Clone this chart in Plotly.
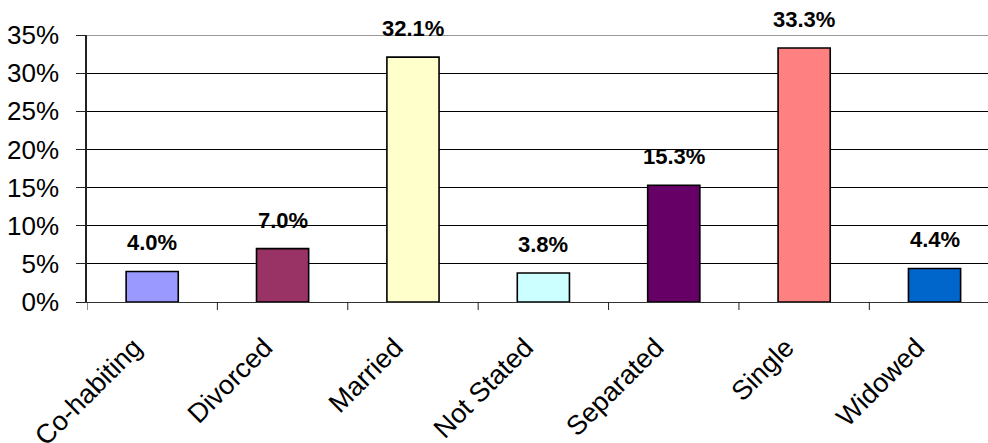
import plotly.graph_objects as go

# Marital status distribution
categories = ["Co-habiting", "Divorced", "Married", "Not Stated", "Separated", "Single", "Widowed"]
shares = [4.0, 7.0, 32.1, 3.8, 15.3, 33.3, 4.4]
bar_colors = ["#9999FF", "#993366", "#FFFFCC", "#CCFFFF", "#660066", "#FF8080", "#0066CC"]
y_ticks = [0, 5, 10, 15, 20, 25, 30, 35]
y_tick_labels = [f"{v}%" for v in y_ticks]

FONT = "Liberation Sans, Arial, sans-serif"

fig = go.Figure(
    go.Bar(
        x=categories,
        y=shares,
        width=0.4,
        marker=dict(color=bar_colors, line=dict(color="#000000", width=1.6)),
        hoverinfo="skip",
    )
)

# value labels above each bar
for cat, val in zip(categories, shares):
    fig.add_annotation(
        x=cat, y=val, text=f"<b>{val:.1f}%</b>", showarrow=False,
        yanchor="bottom", yshift=14,
        font=dict(family=FONT, size=22, color="#000000"),
    )

# lighter frame line along the top of the plot area
fig.add_shape(
    type="line", xref="paper", yref="y", x0=0, x1=1, y0=35, y1=35,
    line=dict(color="#999999", width=2), layer="above",
)

fig.update_layout(
    width=988, height=443,
    margin=dict(l=87, r=0, t=35, b=141, autoexpand=False),
    paper_bgcolor="#FFFFFF", plot_bgcolor="#FFFFFF",
    showlegend=False,
    font=dict(family=FONT, color="#000000"),
    xaxis=dict(
        range=[-0.5, 6.41],
        showgrid=False,
        showline=True, linecolor="#333333", linewidth=1,
        ticks="", tickangle=-45,
        tickfont=dict(family=FONT, size=27, color="#000000"),
        ticklabelstandoff=18, ticklabelshift=-18,
        automargin=False,
        fixedrange=True,
    ),
    yaxis=dict(
        range=[0, 35],
        tickvals=y_ticks, ticktext=y_tick_labels,
        showgrid=True, gridcolor="#000000", gridwidth=1,
        zeroline=False,
        showline=True, linecolor="#222222", linewidth=1.5,
        ticks="outside", ticklen=9, tickcolor="#222222", tickwidth=1,
        tickfont=dict(family=FONT, size=26, color="#000000"),
        ticklabelstandoff=12,
        automargin=False,
        fixedrange=True,
    ),
)

# tick marks at category boundaries below the baseline
for b in range(7):
    fig.add_shape(
        type="line", xref="x", yref="paper", x0=b - 0.5, x1=b - 0.5, y0=0, y1=-0.03,
        line=dict(color="#222222", width=1), layer="above",
    )

fig.write_html("out.html")
